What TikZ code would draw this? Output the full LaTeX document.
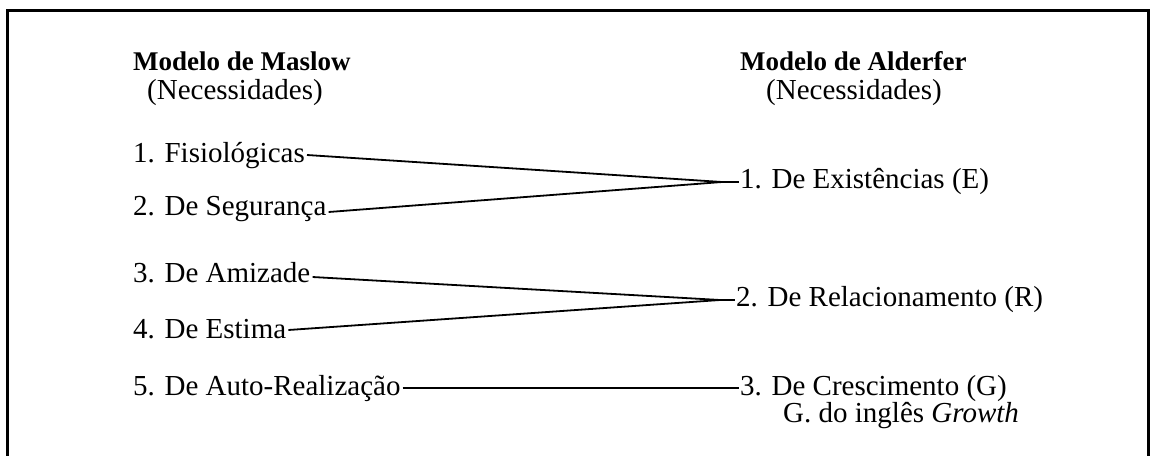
\documentclass[tikz,border=0pt]{standalone}
\usepackage{fontspec}
\setmainfont{Liberation Serif}
\begin{document}
\begin{tikzpicture}[x=1pt,y=-1pt,
  item/.style={anchor=base west,inner sep=0pt,font=\fontsize{29}{33}\selectfont},
  head/.style={anchor=base west,inner sep=0pt,font=\fontsize{27}{31}\selectfont\bfseries},
  link/.style={line width=1.8pt},
  frame/.style={line width=3pt}]
\useasboundingbox (0,0) rectangle (1153,455);
% open frame (no bottom edge)
\draw[frame] (7,456) -- (7,10) -- (1148,10) -- (1148,456);

% left column
\node[head] (mh) at (133,70) {Modelo de Maslow};
\node[item] (mn) at (147,99) {(Necessidades)};
\node[item] (m1) at (133,162) {1. Fisiológicas};
\node[item] (m2) at (133,215) {2. De Segurança};
\node[item] (m3) at (133,282) {3. De Amizade};
\node[item] (m4) at (133,338) {4. De Estima};
\node[item] (m5) at (133,395) {5. De Auto-Realização};

% right column
\node[head] (ah) at (740,70) {Modelo de Alderfer};
\node[item] (an) at (766,99) {(Necessidades)};
\node[item] (a1) at (740,188) {1. De Existências (E)};
\node[item] (a2) at (736,306) {2. De Relacionamento (R)};
\node[item] (a3) at (740,395) {3. De Crescimento (G)};
\node[item] (a3b) at (783,422) {G. do inglês \textit{Growth}};

% meeting points of the paired lines
\coordinate (j1) at ([xshift=-18pt,yshift=6pt]a1.base west);
\coordinate (j2) at ([xshift=-16pt,yshift=6pt]a2.base west);

\draw[link] ([xshift=2pt,yshift=7pt]m1.base east) -- (j1);
\draw[link] ([xshift=2pt,yshift=3pt]m2.base east) -- (j1);
\draw[link] (j1) -- ([xshift=-1pt,yshift=6pt]a1.base west);

\draw[link] ([xshift=2pt,yshift=5pt]m3.base east) -- (j2);
\draw[link] ([xshift=2pt,yshift=8pt]m4.base east) -- (j2);
\draw[link] (j2) -- ([xshift=-1pt,yshift=6pt]a2.base west);

\draw[link] ([xshift=2pt,yshift=7pt]m5.base east) -- ([xshift=-1pt,yshift=7pt]a3.base west);
\end{tikzpicture}
\end{document}
